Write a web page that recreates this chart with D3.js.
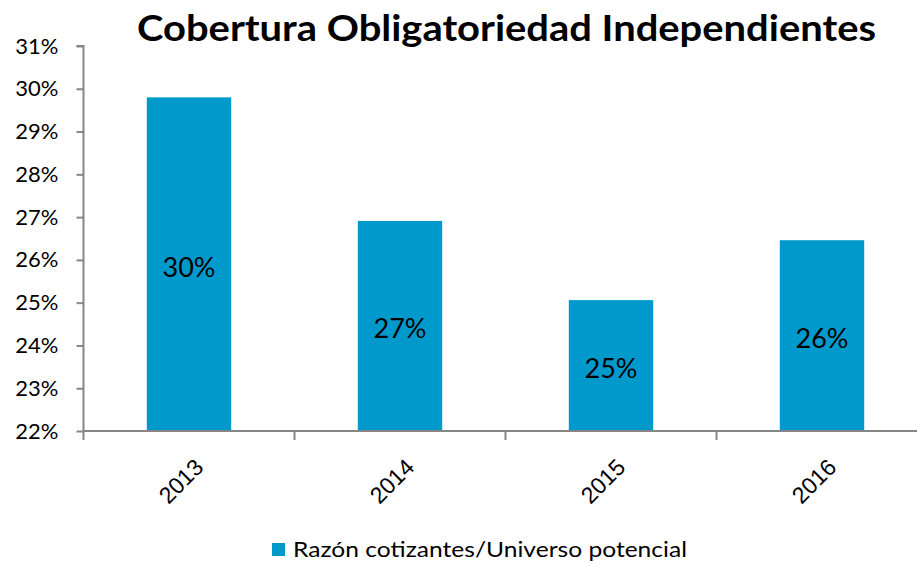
<!DOCTYPE html>
<html>
<head>
<meta charset="utf-8">
<script src="https://cdn.jsdelivr.net/npm/d3@7"></script>
<style>
  body { margin: 0; background: #fff; }
  svg { display: block; font-family: Lato, "Open Sans", sans-serif; }
</style>
</head>
<body>
<svg id="chart" width="917" height="565"></svg>
<script>
const years = ["2013", "2014", "2015", "2016"];
const values = [29.80, 26.91, 25.06, 26.46];
const labels = ["30%", "27%", "25%", "26%"];
const yTicks = [22, 23, 24, 25, 26, 27, 28, 29, 30, 31];
const title = "Cobertura Obligatoriedad Independientes";
const seriesName = "Razón cotizantes/Universo potencial";

const svg = d3.select("#chart");
const color = "#0099CC";
const axisColor = "#868686";

const x = d3.scaleBand().domain(years).range([83.5, 927.5]).paddingInner(0.6).paddingOuter(0.3);
const y = d3.scaleLinear().domain([22, 31]).range([431, 46]);

// title
svg.append("text")
  .attr("x", 137).attr("y", 41)
  .attr("font-size", 37).attr("font-weight", "bold")
  .attr("textLength", 739).attr("lengthAdjust", "spacingAndGlyphs")
  .attr("fill", "#000")
  .text(title);

// bars
svg.selectAll("rect.bar").data(years).join("rect")
  .attr("class", "bar")
  .attr("x", d => x(d))
  .attr("width", x.bandwidth())
  .attr("y", (d, i) => y(values[i]))
  .attr("height", (d, i) => y(22) - y(values[i]))
  .attr("fill", color);

// value labels
svg.selectAll("text.val").data(years).join("text")
  .attr("class", "val")
  .attr("x", d => x(d) + x.bandwidth() / 2)
  .attr("y", (d, i) => (y(values[i]) + y(22)) / 2 + 3)
  .attr("dy", "0.35em")
  .attr("text-anchor", "middle")
  .attr("font-size", 27)
  .attr("fill", "#000")
  .text((d, i) => labels[i]);

// y axis
const yAxis = d3.axisLeft(y).tickValues(yTicks).tickFormat(d => d + "%").tickSize(7).tickPadding(18);
const gy = svg.append("g").attr("transform", "translate(83.5,0)").call(yAxis);
gy.select(".domain").attr("stroke", axisColor).attr("stroke-width", 2).attr("d", `M-7,${y(31)}H0V${y(22)}`);
gy.selectAll(".tick line").attr("stroke", axisColor).attr("stroke-width", 2);
gy.selectAll(".tick text").attr("font-size", 22).attr("fill", "#000").attr("font-family", "Lato, sans-serif");

// x axis
const xStep = x.step();
const xAxis = d3.axisBottom(x).tickSize(0).tickPadding(0);
const gx = svg.append("g").attr("transform", `translate(0,${y(22)})`).call(xAxis);
gx.select(".domain").attr("stroke", axisColor).attr("stroke-width", 2).attr("d", `M83.5,0H927.5`);
gx.selectAll(".tick text").remove();
// category boundary ticks
const bounds = d3.range(0, years.length + 1).map(i => 83.5 + i * xStep);
gx.selectAll("line.bt").data(bounds).join("line")
  .attr("class", "bt")
  .attr("x1", d => d).attr("x2", d => d)
  .attr("y1", 0).attr("y2", 9)
  .attr("stroke", axisColor).attr("stroke-width", 2);
gx.selectAll("text.xl").data(years).join("text")
  .attr("class", "xl")
  .attr("transform", d => `translate(${x(d) + x.bandwidth() / 2 + 10},${32}) rotate(-45)`)
  .attr("text-anchor", "end")
  .attr("dy", "0.35em")
  .attr("font-size", 23)
  .attr("fill", "#000")
  .text(d => d);

// legend
const lg = svg.append("g").attr("transform", "translate(272,543)");
lg.append("rect").attr("width", 13).attr("height", 13).attr("fill", color);
lg.append("text").attr("x", 21).attr("y", 6.5).attr("dy", "0.35em")
  .attr("font-size", 22).attr("fill", "#000")
  .attr("textLength", 394).attr("lengthAdjust", "spacingAndGlyphs")
  .text(seriesName);
</script>
</body>
</html>
